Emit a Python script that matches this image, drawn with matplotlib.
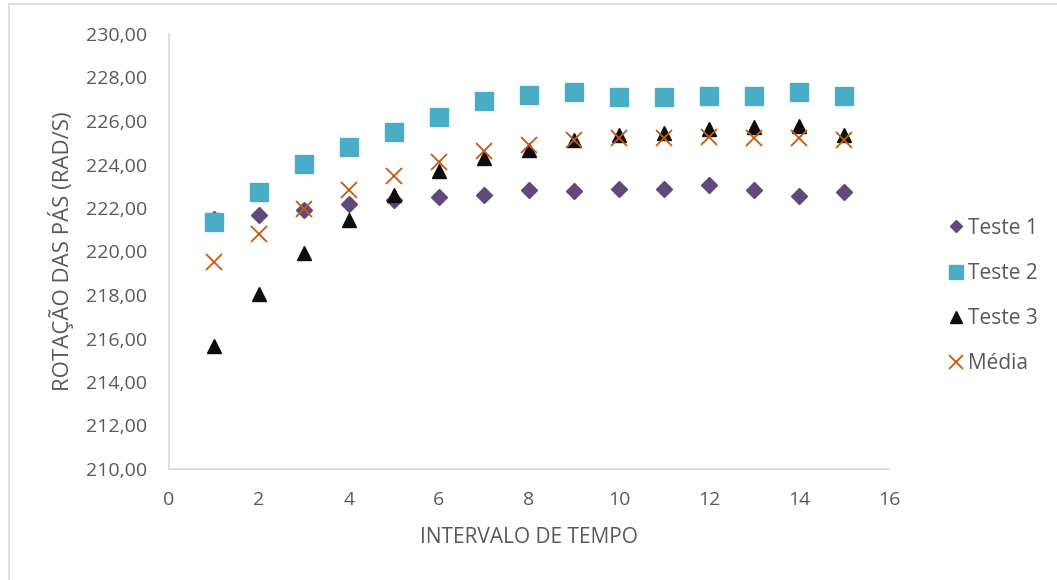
import matplotlib
matplotlib.use("Agg")
import matplotlib.pyplot as plt
from matplotlib.patches import Rectangle
from matplotlib.ticker import FuncFormatter, MultipleLocator

x = list(range(1, 16))
teste1 = [221.50, 221.66, 221.91, 222.17, 222.37, 222.51, 222.60, 222.81,
          222.78, 222.87, 222.87, 223.04, 222.84, 222.54, 222.72]
teste2 = [221.36, 222.75, 224.02, 224.82, 225.48, 226.20, 226.90, 227.20,
          227.33, 227.10, 227.09, 227.15, 227.13, 227.35, 227.15]
teste3 = [215.67, 218.03, 219.93, 221.45, 222.58, 223.69, 224.28, 224.65,
          225.13, 225.36, 225.46, 225.62, 225.71, 225.77, 225.36]
media = [219.53, 220.82, 221.95, 222.83, 223.49, 224.13, 224.62, 224.90,
         225.13, 225.23, 225.20, 225.28, 225.20, 225.20, 225.13]
labels = ["Teste 1", "Teste 2", "Teste 3", "Média"]

plt.rcParams['font.family'] = ['Open Sans', 'DejaVu Sans']
txt = '#595959'
W, H = 1057, 580
fig = plt.figure(figsize=(W / 100, H / 100), dpi=100)
fig.patches.append(Rectangle((9 / W, -0.1), 1.2, 1.1 - 4.5 / H, transform=fig.transFigure,
                             fill=False, edgecolor='#d9d9d9', linewidth=1.2))
ax = fig.add_axes([169 / W, 1 - 469 / H, 720 / W, 435 / H])

ax.plot(x, teste1, linestyle='none', marker='D', ms=8, color='#604a7b', mec='#604a7b', label=labels[0])
ax.plot(x, teste2, linestyle='none', marker='s', ms=12.5, color='#4bacc6', mec='#4bacc6', label=labels[1])
ax.plot(x, teste3, linestyle='none', marker='^', ms=10.5, color='#0d0d0d', mec='#0d0d0d', label=labels[2])
ax.plot(x, media, linestyle='none', marker='x', ms=12, mew=1.3, color='#c55a11', label=labels[3])

ax.set_xlim(0, 16)
ax.set_ylim(210, 230)
ax.xaxis.set_major_locator(MultipleLocator(2))
ax.yaxis.set_major_locator(MultipleLocator(2))
ax.yaxis.set_major_formatter(FuncFormatter(lambda v, p: f"{v:.2f}".replace('.', ',')))

for s in ['top', 'right']:
    ax.spines[s].set_visible(False)
for s in ['left', 'bottom']:
    ax.spines[s].set_color('#d9d9d9')
    ax.spines[s].set_linewidth(1.2)
ax.tick_params(axis='both', length=0, labelsize=14, labelcolor=txt)
ax.tick_params(axis='y', pad=16)
ax.tick_params(axis='x', pad=16)

ax.set_xlabel("INTERVALO DE TEMPO", fontsize=15, color=txt, labelpad=13)
ax.set_ylabel("ROTAÇÃO DAS PÁS (RAD/S)", fontsize=16, color=txt, labelpad=8)

leg = fig.legend(loc='center left', bbox_to_anchor=(935 / W, 1 - 296 / H), frameon=False,
                 fontsize=15, labelcolor=txt, handletextpad=0.0, handlelength=1.2,
                 labelspacing=1.16, borderaxespad=0, markerscale=0.8)

fig.savefig("out.png", dpi=100, facecolor='white')
